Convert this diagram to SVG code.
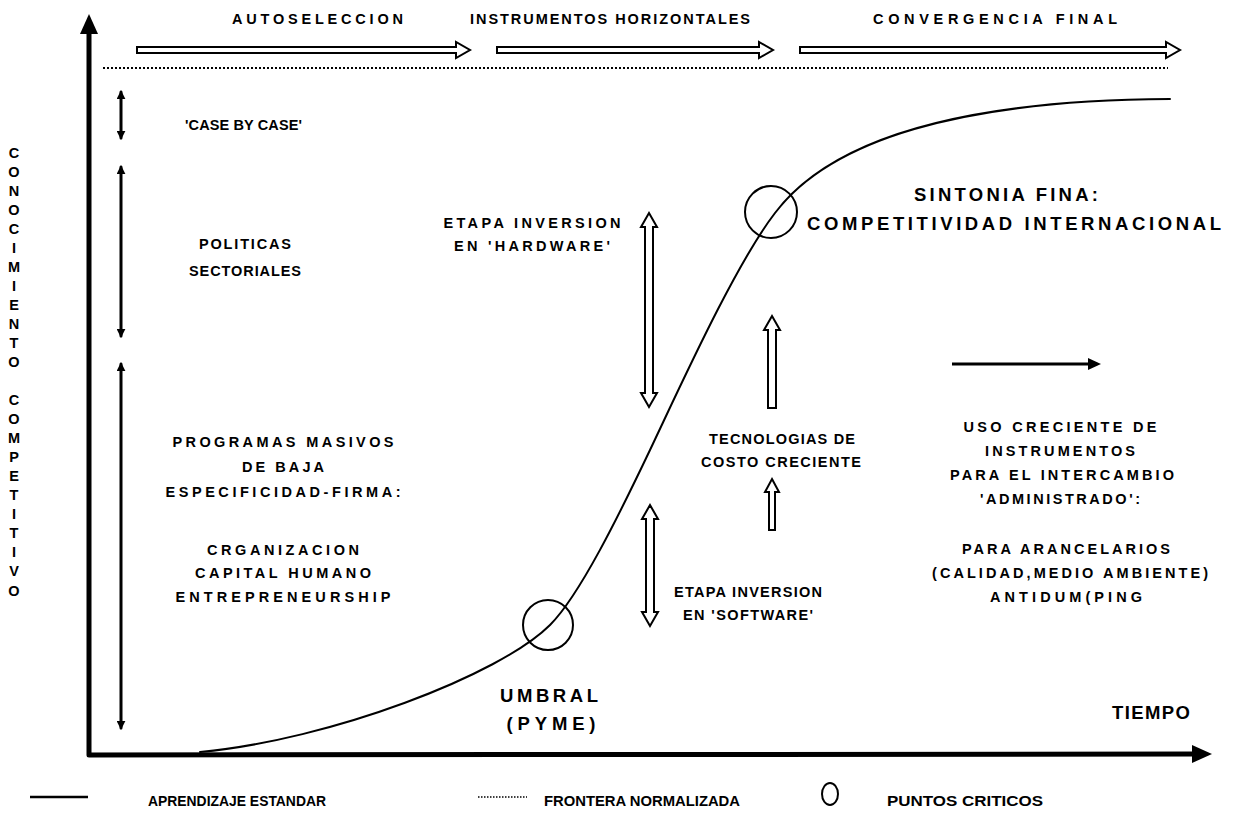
<svg xmlns="http://www.w3.org/2000/svg" width="1241" height="834" viewBox="0 0 1241 834">
<style>
.t{font-family:"Liberation Sans",Arial,sans-serif;font-weight:bold;font-size:14.5px;fill:#000}
.m{text-anchor:middle}
.b{font-size:18.5px}
.lg{font-size:15px}
.ln{fill:none;stroke:#000;stroke-linecap:round;stroke-linejoin:round}
.hol{fill:#fff;stroke:#000;stroke-width:2;stroke-linejoin:miter}
.blk{fill:#000;stroke:none}
</style>
<defs>
<marker id="ah" viewBox="0 0 10 10" refX="8" refY="5" markerWidth="3" markerHeight="3" orient="auto-start-reverse">
<path d="M0,0 L10,5 L0,10 z" fill="#000"/>
</marker>
</defs>
<rect width="1241" height="834" fill="#fff"/>

<g id="connectors">
<path class="ln" d="M89,30 L89,755 L1196,754" stroke-width="5" stroke-linecap="butt"/>
<polygon class="blk" points="89,14 80,34 98,34"/>
<polygon class="blk" points="1212,754 1192,745 1192,763"/>
<line x1="103" y1="68" x2="1168" y2="68" stroke="#000" stroke-width="2" stroke-dasharray="2,2"/>
<polygon class="hol" points="137,47 456,47 456,42 470,50 456,58 456,53 137,53"/>
<polygon class="hol" points="497,47 759,47 759,42 773,50 759,58 759,53 497,53"/>
<polygon class="hol" points="800,47 1166,47 1166,42 1180,50 1166,58 1166,53 800,53"/>
<line class="ln" x1="121" y1="92" x2="121" y2="138" stroke-width="3" marker-start="url(#ah)" marker-end="url(#ah)"/>
<line class="ln" x1="121" y1="167" x2="121" y2="336" stroke-width="3" marker-start="url(#ah)" marker-end="url(#ah)"/>
<line class="ln" x1="121" y1="364" x2="121" y2="728" stroke-width="3" marker-start="url(#ah)" marker-end="url(#ah)"/>
<polygon class="hol" points="649,213 657,227 653,227 653,393 657,393 649,407 641,393 645,393 645,227 641,227"/>
<polygon class="hol" points="650,505 658,519 654,519 654,612 658,612 650,626 642,612 646,612 646,519 642,519"/>
<polygon class="hol" points="772,316 780,330 776,330 776,408 768,408 768,330 764,330"/>
<polygon class="hol" points="772,479 779,492 775,492 775,530 769,530 769,492 765,492"/>
<line x1="952" y1="364" x2="1090" y2="364" stroke="#000" stroke-width="3"/>
<polygon class="blk" points="1101,364 1088,358 1088,370"/>
<path class="ln" stroke-width="2" d="M200,752 C330,740 500,675 550,625 C580,595 620,513 650,450 C680,387 735,265 775,213 C830,140 960,100 1170,99"/>
</g>

<g id="critical-points">
<circle cx="548" cy="625" r="25" class="ln" stroke-width="2"/>
<circle cx="771" cy="212" r="26" class="ln" stroke-width="2"/>
</g>

<g id="y-label">
<text class="t m" font-size="15.5">
<tspan x="14" y="158">C</tspan><tspan x="14" y="177">O</tspan><tspan x="14" y="196">N</tspan><tspan x="14" y="215">O</tspan><tspan x="14" y="234">C</tspan><tspan x="14" y="253">I</tspan><tspan x="14" y="272">M</tspan><tspan x="14" y="291">I</tspan><tspan x="14" y="310">E</tspan><tspan x="14" y="329">N</tspan><tspan x="14" y="348">T</tspan><tspan x="14" y="367">O</tspan><tspan x="14" y="405">C</tspan><tspan x="14" y="424">O</tspan><tspan x="14" y="443">M</tspan><tspan x="14" y="462">P</tspan><tspan x="14" y="481">E</tspan><tspan x="14" y="500">T</tspan><tspan x="14" y="519">I</tspan><tspan x="14" y="538">T</tspan><tspan x="14" y="557">I</tspan><tspan x="14" y="576">V</tspan><tspan x="14" y="596">O</tspan>
</text>
</g>

<g id="x-label"><text class="t b" x="1112" y="719" textLength="78">TIEMPO</text></g>

<g id="phases">
<text class="t" x="232" y="24" textLength="171">AUTOSELECCION</text>
<text class="t" x="470" y="24" textLength="280">INSTRUMENTOS HORIZONTALES</text>
<text class="t" x="873" y="24" textLength="244">CONVERGENCIA FINAL</text>
</g>

<g id="case-by-case"><text class="t" x="185" y="130" textLength="117">'CASE BY CASE'</text></g>

<g id="politicas">
<text class="t m" x="245" y="249" textLength="92">POLITICAS</text>
<text class="t m" x="245" y="276" textLength="112">SECTORIALES</text>
</g>

<g id="programas">
<text class="t m" x="283" y="447" textLength="221">PROGRAMAS MASIVOS</text>
<text class="t m" x="283" y="472" textLength="82">DE BAJA</text>
<text class="t m" x="283" y="497" textLength="235">ESPECIFICIDAD-FIRMA:</text>
<text class="t m" x="283" y="555" textLength="152">CRGANIZACION</text>
<text class="t m" x="283" y="578" textLength="176">CAPITAL HUMANO</text>
<text class="t m" x="283" y="602" textLength="215">ENTREPRENEURSHIP</text>
</g>

<g id="hardware">
<text class="t m" x="532" y="228" textLength="177">ETAPA INVERSION</text>
<text class="t m" x="532" y="251" textLength="156">EN 'HARDWARE'</text>
</g>

<g id="software">
<text class="t" x="674" y="597" textLength="148">ETAPA INVERSION</text>
<text class="t" x="683" y="620" textLength="130">EN 'SOFTWARE'</text>
</g>

<g id="tecnologias">
<text class="t m" x="782" y="444" textLength="146">TECNOLOGIAS DE</text>
<text class="t m" x="781" y="467" textLength="160">COSTO CRECIENTE</text>
</g>

<g id="sintonia">
<text class="t m b" x="1006" y="201" textLength="184">SINTONIA FINA:</text>
<text class="t m b" x="1014" y="230" textLength="414">COMPETITIVIDAD INTERNACIONAL</text>
</g>

<g id="uso-creciente">
<text class="t m" x="1060" y="432" textLength="193">USO CRECIENTE DE</text>
<text class="t m" x="1060" y="456" textLength="150">INSTRUMENTOS</text>
<text class="t m" x="1062" y="480" textLength="224">PARA EL INTERCAMBIO</text>
<text class="t m" x="1060" y="504" textLength="160">'ADMINISTRADO':</text>
<text class="t m" x="1066" y="554" textLength="208">PARA ARANCELARIOS</text>
<text class="t m" x="1070" y="578" textLength="276">(CALIDAD,MEDIO AMBIENTE)</text>
<text class="t m" x="1066" y="602" textLength="152">ANTIDUM(PING</text>
</g>

<g id="umbral">
<text class="t m b" x="549" y="702" textLength="98">UMBRAL</text>
<text class="t m b" x="551" y="730" textLength="89">(PYME)</text>
</g>

<g id="legend">
<line x1="30" y1="797" x2="88" y2="797" stroke="#000" stroke-width="2.5"/>
<text class="t lg" x="148" y="806" textLength="178" lengthAdjust="spacingAndGlyphs">APRENDIZAJE ESTANDAR</text>
<line x1="478" y1="797" x2="527" y2="797" stroke="#000" stroke-width="1.5" stroke-dasharray="1.5,1.5"/>
<text class="t lg" x="544" y="806" textLength="196" lengthAdjust="spacingAndGlyphs">FRONTERA NORMALIZADA</text>
<ellipse cx="830" cy="794" rx="8" ry="11" class="ln" stroke-width="2"/>
<text class="t lg" x="887" y="806" textLength="156" lengthAdjust="spacingAndGlyphs">PUNTOS CRITICOS</text>
</g>
</svg>
